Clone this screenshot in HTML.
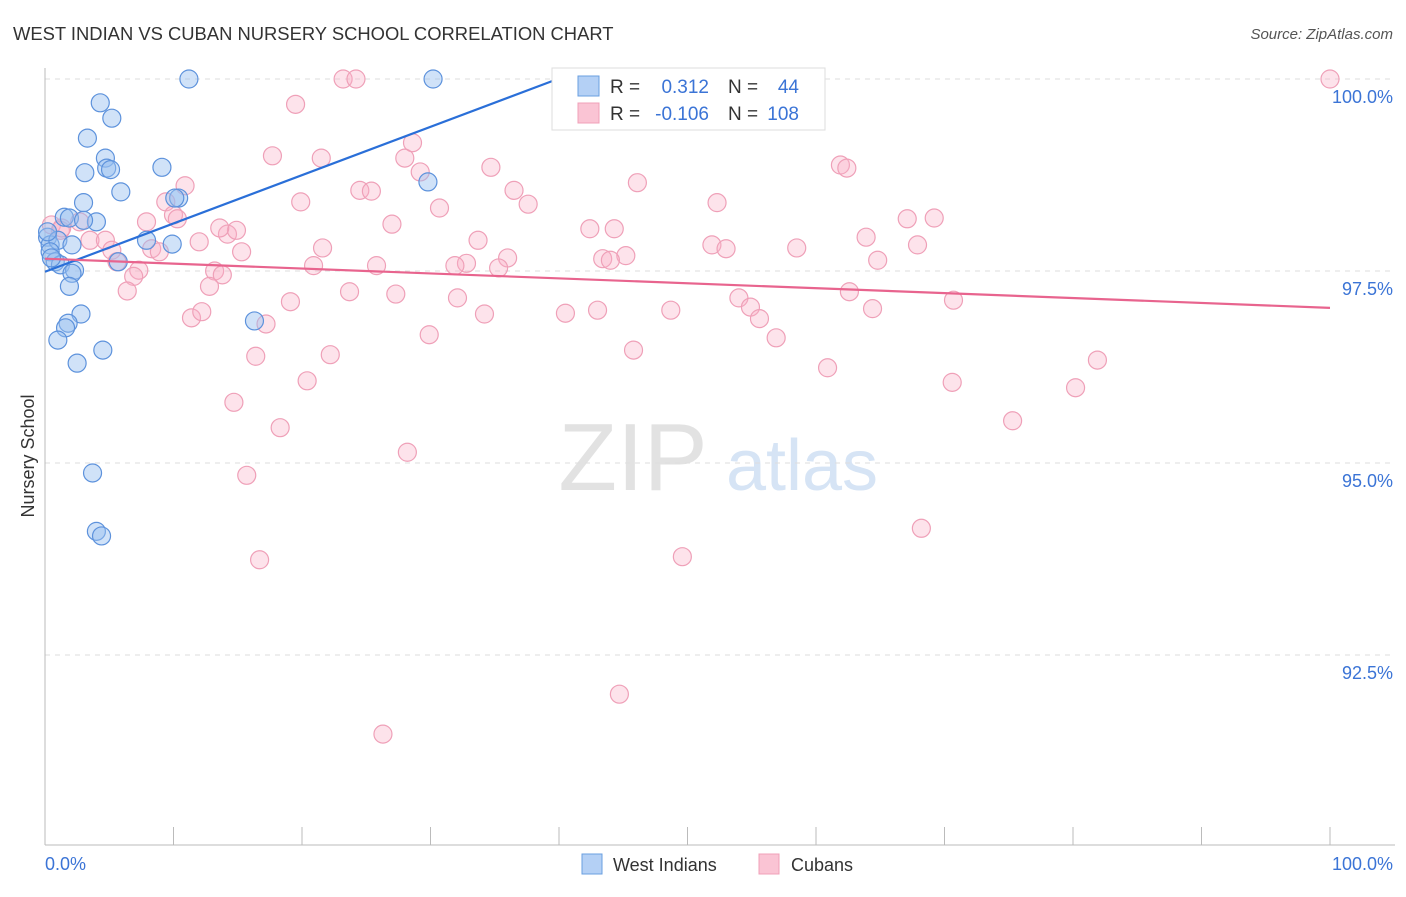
<!DOCTYPE html>
<html><head><meta charset="utf-8"><style>
body{margin:0;background:#fff;font-family:"Liberation Sans",sans-serif;}
svg text{font-family:"Liberation Sans",sans-serif;}
</style></head><body>
<svg id="chart" width="1406" height="892" viewBox="0 0 1406 892" xmlns="http://www.w3.org/2000/svg">
<text x="13" y="40" font-size="18.4" fill="#333">WEST INDIAN VS CUBAN NURSERY SCHOOL CORRELATION CHART</text>
<text x="1393" y="39" font-size="15" fill="#555" font-style="italic" text-anchor="end">Source: ZipAtlas.com</text>
<g>
<text x="633" y="490" font-size="96" fill="#e2e2e2" font-family="Liberation Serif" text-anchor="middle">ZIP</text>
<text x="802" y="490" font-size="72" fill="#d6e4f5" text-anchor="middle">atlas</text>
</g>
<g id="grid"></g>
<g id="axes"></g>
<g id="marks"></g>
<g id="lines"></g>
<text transform="translate(34,456) rotate(-90)" font-size="18" fill="#333" text-anchor="middle">Nursery School</text>
<text x="45" y="870" font-size="18" fill="#3b74d6">0.0%</text>
<text x="1393" y="870" font-size="18" fill="#3b74d6" text-anchor="end">100.0%</text>
<g>
<rect x="552" y="68" width="273" height="62" fill="#fff" stroke="#ddd"/>
<rect x="578" y="76" width="21" height="20" fill="#b4d0f5" stroke="#6a9fe0"/>
<rect x="578" y="103" width="21" height="20" fill="#fac4d4" stroke="#f0a0b8"/>
<text x="610" y="93" font-size="19" fill="#333">R =</text>
<text x="709" y="93" font-size="19" fill="#3b74d6" text-anchor="end">0.312</text>
<text x="728" y="93" font-size="19" fill="#333">N =</text>
<text x="799" y="93" font-size="19" fill="#3b74d6" text-anchor="end">44</text>
<text x="610" y="120" font-size="19" fill="#333">R =</text>
<text x="709" y="120" font-size="19" fill="#3b74d6" text-anchor="end">-0.106</text>
<text x="728" y="120" font-size="19" fill="#333">N =</text>
<text x="799" y="120" font-size="19" fill="#3b74d6" text-anchor="end">108</text>
</g>
<g>
<rect x="582" y="854" width="20" height="20" fill="#b4d0f5" stroke="#6a9fe0"/>
<text x="613" y="871" font-size="18" fill="#333">West Indians</text>
<rect x="759" y="854" width="20" height="20" fill="#fac4d4" stroke="#f0a0b8"/>
<text x="791" y="871" font-size="18" fill="#333">Cubans</text>
</g>
</svg>
<script>
const yTicks=[100,97.5,95,92.5];
const yTickLabels=["100.0%","97.5%","95.0%","92.5%"];
const xTicks=[0,10,20,30,40,50,60,70,80,90,100];
const blueX=[11.2,30.2,4.3,5.2,3.3,4.7,4.8,5.1,3.1,9.1,5.9,3.0,10.4,10.1,29.8,1.5,1.9,4.0,3.0,0.2,0.4,1.0,2.1,7.9,9.9,0.4,0.8,1.2,2.3,2.1,5.7,1.9,2.8,1.8,1.6,1.0,4.5,2.5,16.3,3.7,4.0,4.4,0.2,0.5];
const blueY=[100,100,99.69,99.49,99.23,98.97,98.84,98.82,98.78,98.85,98.53,98.39,98.45,98.45,98.66,98.20,98.19,98.14,98.16,97.94,97.84,97.90,97.84,97.90,97.85,97.75,97.62,97.58,97.51,97.47,97.62,97.30,96.94,96.82,96.76,96.60,96.47,96.30,96.85,94.87,94.11,94.05,98.01,97.67];
const pinkX=[100,23.2,24.2,19.5,17.7,21.5,28.0,28.6,29.2,34.7,61.9,62.4,46.1,10.9,24.5,25.4,19.9,9.4,30.7,36.5,37.6,52.3,67.1,69.2,27.0,42.4,44.3,33.7,14.2,12.0,10.0,10.3,7.9,0.5,1.2,2.7,3.5,4.7,1.3,21.6,15.3,8.3,8.9,5.2,5.6,51.9,53.0,58.5,63.9,67.9,45.2,43.4,44.0,36.0,32.8,31.9,35.3,25.8,20.9,7.3,6.9,13.2,13.8,12.8,6.4,23.7,27.3,19.1,32.1,34.2,40.5,43.0,48.7,54.0,54.9,55.6,62.6,64.4,70.7,64.8,11.4,12.2,17.2,29.9,56.9,45.8,16.4,22.2,20.4,60.9,70.6,81.9,80.2,14.7,18.3,75.3,28.2,15.7,68.2,49.6,16.7,44.7,26.3,14.9,13.6];
const pinkY=[100,100,100,99.67,99.00,98.97,98.97,99.17,98.79,98.85,98.88,98.84,98.65,98.61,98.55,98.54,98.40,98.40,98.32,98.55,98.37,98.39,98.18,98.19,98.11,98.05,98.05,97.90,97.98,97.88,98.23,98.18,98.14,98.10,98.03,98.14,97.90,97.90,98.06,97.80,97.75,97.79,97.75,97.77,97.62,97.84,97.79,97.80,97.94,97.84,97.70,97.66,97.64,97.67,97.60,97.57,97.54,97.57,97.57,97.51,97.43,97.50,97.45,97.30,97.24,97.23,97.20,97.10,97.15,96.94,96.95,96.99,96.99,97.15,97.03,96.88,97.23,97.01,97.12,97.64,96.89,96.97,96.81,96.67,96.63,96.47,96.39,96.41,96.07,96.24,96.05,96.34,95.98,95.79,95.46,95.55,95.14,94.84,94.15,93.78,93.74,91.99,91.47,98.03,98.06];
const blueTrend=[[0,97.49],[39.9,100]];
const pinkTrend=[[0,97.66],[100,97.02]];
const NS='http://www.w3.org/2000/svg';
const X=v=>45+v*12.85;
const Y=v=>79+(100-v)*76.8;
function mk(tag,attrs,parent){const e=document.createElementNS(NS,tag);for(const k in attrs)e.setAttribute(k,attrs[k]);parent.appendChild(e);return e;}
const grid=document.getElementById('grid'),axes=document.getElementById('axes'),marks=document.getElementById('marks'),lines=document.getElementById('lines');
yTicks.forEach((t,i)=>{
 const l=mk('line',{x1:45,x2:1395,y1:Y(t),y2:Y(t),stroke:'#ddd','stroke-dasharray':'5,5'},grid);
 
 
 const tx=mk('text',{x:1393,y:Y(t)+24,'font-size':18,fill:'#3b74d6','text-anchor':'end'},axes);
 tx.textContent=yTickLabels[i];
 
 
});
const ax=mk('line',{x1:45,x2:45,y1:68,y2:845,stroke:'#bbb'},axes);


const bx=mk('line',{x1:45,x2:1395,y1:845,y2:845,stroke:'#bbb'},axes);


xTicks.forEach(t=>{
 const l=mk('line',{x1:X(t),x2:X(t),y1:827,y2:845,stroke:'#bbb'},axes);
 
 
});
pinkX.forEach((v,i)=>{
 const c=mk('circle',{cx:X(v),cy:Y(pinkY[i]),r:9,fill:'rgba(248,176,198,0.35)',stroke:'#efa0b8','stroke-width':1.2},marks);
 
 
});
blueX.forEach((v,i)=>{
 const c=mk('circle',{cx:X(v),cy:Y(blueY[i]),r:9,fill:'rgba(150,190,240,0.45)',stroke:'#5d92dc','stroke-width':1.2},marks);
 
 
});
const bl=mk('line',{x1:X(blueTrend[0][0]),y1:Y(blueTrend[0][1]),x2:X(blueTrend[1][0]),y2:Y(blueTrend[1][1]),stroke:'#2a6fd8','stroke-width':2.2},lines);


const pl=mk('line',{x1:X(pinkTrend[0][0]),y1:Y(pinkTrend[0][1]),x2:X(pinkTrend[1][0]),y2:Y(pinkTrend[1][1]),stroke:'#e8648e','stroke-width':2.2},lines);


</script>
</body></html>
